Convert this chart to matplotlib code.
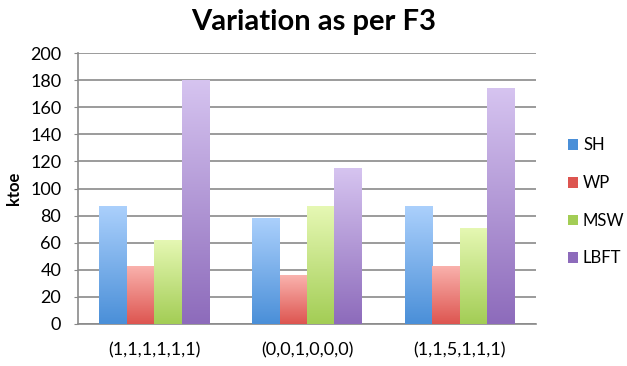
import matplotlib
matplotlib.use('Agg')
import matplotlib.pyplot as plt
import numpy as np
from matplotlib.colors import LinearSegmentedColormap
from matplotlib.patches import Patch

plt.rcParams['font.family'] = ['Lato', 'DejaVu Sans']

# data
categories = ['(1,1,1,1,1,1)', '(0,0,1,0,0,0)', '(1,1,5,1,1,1)']
series = ['SH', 'WP', 'MSW', 'LBFT']
sh = [87, 78, 87]
wp = [43, 36, 43]
msw = [62, 87, 71]
lbft = [180, 115, 174]
values = [sh, wp, msw, lbft]

# light top / dark bottom for each series
shades = {
    'SH': ('#abd0fc', '#4a8fd8'),
    'WP': ('#fab3ae', '#dd5550'),
    'MSW': ('#e6f8b4', '#a3cd55'),
    'LBFT': ('#d6c4f0', '#8d6bbb'),
}

fig = plt.figure(figsize=(6.27, 3.66), dpi=100)
ax = fig.add_axes([78 / 627, 1 - 324 / 366, (536 - 78) / 627, (324 - 53) / 366])

x = np.arange(len(categories))
width = 0.18
grad = np.linspace(0, 1, 256).reshape(-1, 1)

for i, name in enumerate(series):
    top, bottom = shades[name]
    cmap = LinearSegmentedColormap.from_list(name, [bottom, top])
    offs = (i - 1.5) * width
    bars = ax.bar(x + offs, values[i], width, color='none', edgecolor='none', zorder=3)
    for b in bars:
        x0, y0 = b.get_x(), b.get_y()
        im = ax.imshow(grad, cmap=cmap, origin='lower', aspect='auto',
                       extent=[x0, x0 + b.get_width(), y0, y0 + b.get_height()],
                       zorder=3)
        im.set_clip_path(b)

ax.set_xlim(-0.5, 2.5)
ax.set_ylim(0, 200)
ax.set_yticks(np.arange(0, 201, 20))
ax.set_xticks(x)
ax.set_xticklabels(categories, fontsize=13)
ax.tick_params(axis='y', labelsize=13, length=3, color='#888888', pad=9)
ax.tick_params(axis='x', length=0, pad=13)
ax.grid(axis='y', color='#8a8a8a', linewidth=1.2, zorder=0)
ax.set_axisbelow(True)
for s in ['top', 'right']:
    ax.spines[s].set_visible(False)
ax.spines['left'].set_color('#8a8a8a')
ax.spines['bottom'].set_color('#8a8a8a')
ax.spines['left'].set_linewidth(1.2)
ax.spines['bottom'].set_linewidth(1.2)

ax.set_ylabel('ktoe', fontsize=12, fontweight='bold', labelpad=6)
fig.text(314 / 627, 1 - 22 / 366, 'Variation as per F3', ha='center', va='center',
         fontsize=21, fontweight='bold')

handles = [Patch(facecolor=shades[n][1], edgecolor='none') for n in series]
fig.legend(handles, series, loc='center left', bbox_to_anchor=(568 / 627, 1 - 202 / 366),
           frameon=False, fontsize=12, handlelength=0.6, handleheight=0.6,
           handletextpad=0.3, labelspacing=1.3, borderpad=0, borderaxespad=0)

fig.savefig('out.png', dpi=100)
